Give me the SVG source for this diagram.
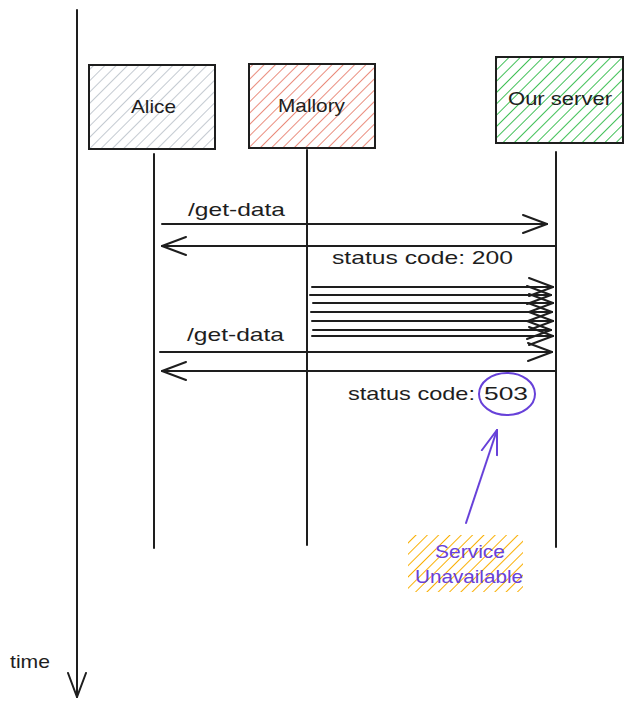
<svg xmlns="http://www.w3.org/2000/svg" width="632" height="707" viewBox="0 0 632 707">
<style>
.t{font-family:"Liberation Sans","DejaVu Sans",sans-serif;font-size:19px;fill:#1e1e1e}
.p{fill:#6741d9}
.box{stroke:#1e1e1e;stroke-width:2}
.ln{stroke:#1e1e1e;stroke-width:2;fill:none;stroke-linecap:round}
</style>
<defs>
<pattern id="hGray" width="8" height="8" patternUnits="userSpaceOnUse" patternTransform="rotate(45)"><line x1="0" y1="-1" x2="0" y2="9" stroke="#c4cad1" stroke-width="2"/></pattern>
<pattern id="hRed" width="8" height="8" patternUnits="userSpaceOnUse" patternTransform="rotate(45)"><line x1="0" y1="-1" x2="0" y2="9" stroke="#e8806f" stroke-width="1.8"/></pattern>
<pattern id="hGreen" width="8" height="8" patternUnits="userSpaceOnUse" patternTransform="rotate(45)"><line x1="0" y1="-1" x2="0" y2="9" stroke="#40c057" stroke-width="2"/></pattern>
<pattern id="hOrange" width="8" height="8" patternUnits="userSpaceOnUse" patternTransform="rotate(45)"><line x1="0" y1="-1" x2="0" y2="9" stroke="#fab005" stroke-width="2"/></pattern>
<marker id="arr" viewBox="0 0 26 20" refX="25" refY="10" markerWidth="26" markerHeight="20" markerUnits="userSpaceOnUse" orient="auto"><path d="M1,1 L25,10 L1,19" fill="none" stroke="#1e1e1e" stroke-width="2" stroke-linecap="round"/></marker>
<marker id="arrP" viewBox="0 0 26 20" refX="25" refY="10" markerWidth="26" markerHeight="20" markerUnits="userSpaceOnUse" orient="auto"><path d="M1,2 L25,10 L1,18" fill="none" stroke="#6741d9" stroke-width="2" stroke-linecap="round"/></marker>
</defs>
<rect width="632" height="707" fill="#ffffff"/>

<g id="time-axis">
<line class="ln" x1="77" y1="10" x2="77" y2="697" marker-end="url(#arr)"/>
<text class="t" x="10" y="668" textLength="40" lengthAdjust="spacingAndGlyphs" font-size="16">time</text>
</g>

<g id="alice">
<rect class="box" x="89" y="65" width="126" height="84" fill="url(#hGray)"/>
<text class="t" x="153.5" y="113" text-anchor="middle" textLength="45" lengthAdjust="spacingAndGlyphs">Alice</text>
<line class="ln" x1="154" y1="154" x2="154" y2="548"/>
</g>

<g id="mallory">
<rect class="box" x="249" y="64" width="126" height="84" fill="url(#hRed)"/>
<text class="t" x="311.5" y="112" text-anchor="middle" textLength="67" lengthAdjust="spacingAndGlyphs">Mallory</text>
<line class="ln" x1="307" y1="150" x2="307" y2="545"/>
</g>

<g id="server">
<rect class="box" x="496" y="57" width="127" height="86" fill="url(#hGreen)"/>
<text class="t" x="560" y="105" text-anchor="middle" textLength="104" lengthAdjust="spacingAndGlyphs">Our server</text>
<line class="ln" x1="556" y1="152" x2="556" y2="547"/>
</g>

<g id="connectors">
<line class="ln" x1="162" y1="224" x2="547" y2="224" marker-end="url(#arr)"/>
<line class="ln" x1="556" y1="246" x2="162" y2="246" marker-end="url(#arr)"/>
<line class="ln" x1="312" y1="287" x2="553" y2="287" marker-end="url(#arr)"/>
<line class="ln" x1="310" y1="295" x2="551" y2="295" marker-end="url(#arr)"/>
<line class="ln" x1="313" y1="303" x2="553" y2="303" marker-end="url(#arr)"/>
<line class="ln" x1="311" y1="312" x2="552" y2="312" marker-end="url(#arr)"/>
<line class="ln" x1="312" y1="321" x2="553" y2="321" marker-end="url(#arr)"/>
<line class="ln" x1="313" y1="330" x2="551" y2="330" marker-end="url(#arr)"/>
<line class="ln" x1="312" y1="336" x2="553" y2="336" marker-end="url(#arr)"/>
<line class="ln" x1="160" y1="352" x2="552" y2="352" marker-end="url(#arr)"/>
<line class="ln" x1="556" y1="371" x2="162" y2="371" marker-end="url(#arr)"/>
<line x1="466" y1="523" x2="497" y2="430" stroke="#6741d9" stroke-width="2" stroke-linecap="round" marker-end="url(#arrP)"/>
</g>

<g id="labels">
<text class="t" x="188" y="216" textLength="97" lengthAdjust="spacingAndGlyphs">/get-data</text>
<text class="t" x="332" y="264" textLength="181" lengthAdjust="spacingAndGlyphs">status code: 200</text>
<text class="t" x="187" y="341" textLength="97" lengthAdjust="spacingAndGlyphs">/get-data</text>
<text class="t" x="348" y="400" textLength="127" lengthAdjust="spacingAndGlyphs">status code:</text>
<text class="t" x="484" y="400" textLength="44" lengthAdjust="spacingAndGlyphs">503</text>
</g>

<g id="highlight-503">
<ellipse cx="507" cy="394" rx="28" ry="21" fill="none" stroke="#6741d9" stroke-width="2"/>
</g>

<g id="service-unavailable">
<rect x="408" y="535" width="115" height="57" fill="url(#hOrange)"/>
<text class="t p" x="470" y="558" text-anchor="middle" textLength="70" lengthAdjust="spacingAndGlyphs">Service</text>
<text class="t p" x="469" y="583" text-anchor="middle" textLength="108" lengthAdjust="spacingAndGlyphs">Unavailable</text>
</g>
</svg>
